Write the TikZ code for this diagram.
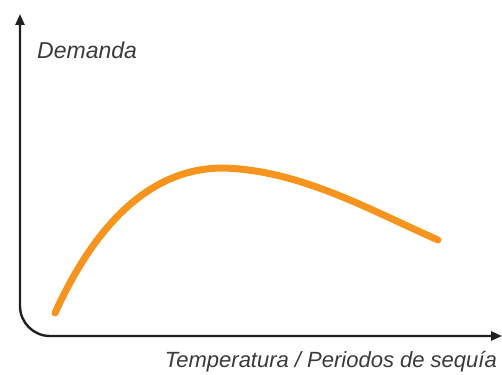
\documentclass[tikz,border=0pt]{standalone}
\usepackage{fontspec}
\setmainfont{Liberation Sans}
\usetikzlibrary{arrows.meta}
\definecolor{curveorange}{HTML}{F7941D}
\definecolor{axisgray}{HTML}{231F20}
\definecolor{labelgray}{HTML}{3A3A3A}
\begin{document}
\begin{tikzpicture}[x=1pt,y=-1pt,
  axis/.style={draw=axisgray,line width=2.4pt,{Triangle[length=11pt,width=9pt]}-{Triangle[length=11pt,width=9pt]}},
  demand/.style={draw=curveorange,line width=7pt,line cap=round},
  axislabel/.style={font=\itshape\fontsize{23}{26}\selectfont,text=labelgray,inner sep=0pt}]
\useasboundingbox (0,0) rectangle (502,374);
\coordinate (origin) at (20,336);
\coordinate (ytip) at (20,14);
\coordinate (xtip) at (502,336);
\draw[axis,rounded corners=30pt] (ytip) -- (origin) -- (xtip);
\node[axislabel,anchor=base west] (ylabel) at (37,59) {Demanda};
\node[axislabel,font=\itshape\fontsize{22}{26}\selectfont,anchor=base east] (xlabel) at (497,367) {Temperatura / Periodos de sequía};
\coordinate (start) at (55,313);
\coordinate (peak) at (223,168);
\coordinate (stop) at (438,240);
\draw[demand] (start) .. controls (95,225) and (150,168) .. (peak)
  .. controls (300,170) and (370,210) .. (stop);
\end{tikzpicture}
\end{document}
